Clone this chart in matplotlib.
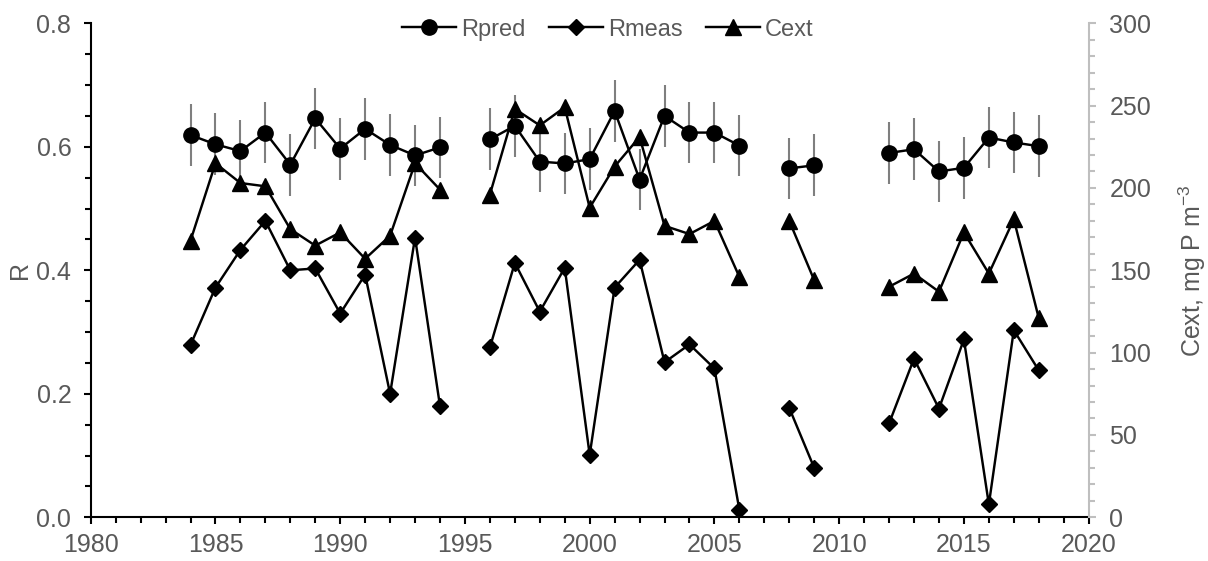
import numpy as np
import matplotlib
matplotlib.use('Agg')
import matplotlib.pyplot as plt
from matplotlib.ticker import MultipleLocator

plt.rcParams['font.family'] = ['Liberation Sans', 'DejaVu Sans']
plt.rcParams['mathtext.fontset'] = 'custom'
plt.rcParams['mathtext.rm'] = 'Liberation Sans'
plt.rcParams['mathtext.default'] = 'regular'

# Data (NaN = no observation, breaks the line)
nan = np.nan
years = np.arange(1984, 2019)
r_pred = [0.619, 0.604, 0.593, 0.623, 0.571, 0.646, 0.597, 0.629, 0.603, 0.586, 0.599,
          nan,
          0.612, 0.634, 0.576, 0.573, 0.580, 0.658, 0.547, 0.650, 0.623, 0.623, 0.602,
          nan,
          0.565, 0.570,
          nan, nan,
          0.590, 0.596, 0.560, 0.566, 0.615, 0.607, 0.601]
r_pred_err = [0.05] * len(years)
r_meas = [0.279, 0.372, 0.433, 0.480, 0.400, 0.403, 0.330, 0.393, 0.200, 0.453, 0.180,
          nan,
          0.275, 0.412, 0.333, 0.404, 0.101, 0.372, 0.417, 0.251, 0.280, 0.241, 0.012,
          nan,
          0.177, 0.080,
          nan, nan,
          0.152, 0.257, 0.176, 0.288, 0.021, 0.303, 0.238]
c_ext = [168, 215, 203, 201, 175, 165, 173, 157, 171, 215, 199,
         nan,
         196, 248, 238, 249, 188, 213, 231, 177, 172, 180, 146,
         nan,
         180, 144,
         nan, nan,
         140, 148, 137, 173, 148, 181, 121]

grey_text = '#595959'
fs = 18
lw = 1.75

fig = plt.figure(figsize=(12.08, 5.61), dpi=100)
ax = fig.add_axes([0.0751, 0.0779, 0.8261, 0.8806])
ax2 = ax.twinx()

ax.errorbar(years, r_pred, yerr=r_pred_err, fmt='none', ecolor='#7f7f7f',
            elinewidth=1.5, capsize=0, zorder=2)
l1, = ax.plot(years, r_pred, color='black', lw=lw, marker='o', markersize=11,
              label='Rpred', zorder=3)
l2, = ax.plot(years, r_meas, color='black', lw=lw, marker='D', markersize=8,
              label='Rmeas', zorder=3)
l3, = ax2.plot(years, c_ext, color='black', lw=lw, marker='^', markersize=11,
               label='Cext', zorder=3)

ax.set_xlim(1980, 2020)
ax.set_ylim(0, 0.8)
ax2.set_ylim(0, 300)

ax.xaxis.set_major_locator(MultipleLocator(5))
ax.xaxis.set_minor_locator(MultipleLocator(1))
ax.yaxis.set_major_locator(MultipleLocator(0.2))
ax.yaxis.set_minor_locator(MultipleLocator(0.05))
ax.yaxis.set_major_formatter(matplotlib.ticker.FormatStrFormatter('%.1f'))
ax2.yaxis.set_major_locator(MultipleLocator(50))
ax2.yaxis.set_minor_locator(MultipleLocator(10))

for a in (ax, ax2):
    a.spines['top'].set_visible(False)
ax.spines['right'].set_visible(False)
ax2.spines['left'].set_visible(False)
ax2.spines['bottom'].set_visible(False)
ax.spines['left'].set_linewidth(1.5)
ax.spines['bottom'].set_linewidth(1.5)
ax2.spines['right'].set_color('#bfbfbf')
ax2.spines['right'].set_linewidth(1.5)

ax.tick_params(axis='both', which='major', length=5, width=1.5, color='black',
               labelsize=fs, labelcolor=grey_text)
ax.tick_params(axis='y', which='major', pad=9)
ax.tick_params(axis='x', which='major', pad=6)
ax.tick_params(axis='both', which='minor', length=4, width=1.5, color='black')
ax2.tick_params(axis='y', which='major', length=5, width=1.5, color='#bfbfbf',
                labelsize=fs, labelcolor=grey_text, pad=10)
ax2.tick_params(axis='y', which='minor', length=4, width=1.5, color='#bfbfbf')

ax.set_ylabel('R', fontsize=fs, color=grey_text, labelpad=3)
ax2.set_ylabel('Cext, mg P m$^{-3}$', fontsize=fs, color=grey_text, labelpad=18)

leg = ax2.legend(handles=[l1, l2, l3], loc='center', bbox_to_anchor=(0.503, 0.947),
                 bbox_transform=fig.transFigure, ncol=3, frameon=False,
                 fontsize=17, handlelength=2.3, handletextpad=0.2,
                 columnspacing=1.0, borderaxespad=0)
for t in leg.get_texts():
    t.set_color(grey_text)

fig.savefig('out.png', dpi=100)
